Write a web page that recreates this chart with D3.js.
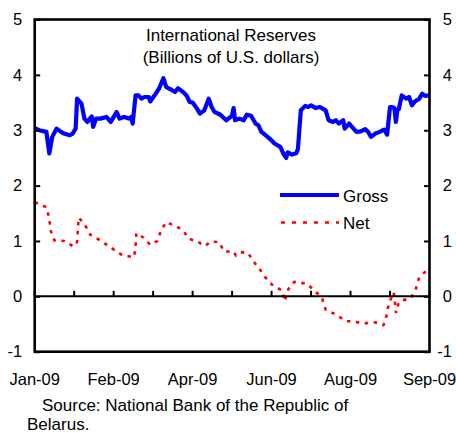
<!DOCTYPE html>
<html>
<head>
<meta charset="utf-8">
<script src="https://cdn.jsdelivr.net/npm/d3@7"></script>
<style>
  html, body { margin: 0; padding: 0; background: #fff; }
  svg { display: block; }
  text { font-family: "Liberation Sans", Arial, sans-serif; fill: #000; }
</style>
</head>
<body>
<svg id="chart" width="456" height="433"></svg>
<script>
// Belarus international reserves, billions of U.S. dollars (x = days since 1 Jan 2009)
const grossDays = [0,3,8,10,12,15,18,20,24,26,28,29,32,34,36,39,40,42,45,49,52,56,58,61,65,66,67,69,71,73,75,78,79,82,85,88,90,93,96,98,102,104,106,108,111,113,116,119,121,123,127,131,134,135,136,137,140,143,145,148,151,153,155,158,161,164,168,170,172,173,176,179,180,182,185,187,189,192,195,199,201,204,206,208,211,212,215,217,220,223,226,228,230,233,236,238,239,241,243,244,246,247,248,249,251,254,256,258,260,263,265,267,270];
const grossValues = [3.04,3.00,2.97,2.58,2.88,3.03,2.97,2.94,2.91,2.94,3.03,3.57,3.48,3.21,3.15,3.25,3.06,3.21,3.21,3.24,3.15,3.33,3.21,3.24,3.21,3.24,3.12,3.63,3.63,3.57,3.60,3.60,3.52,3.63,3.75,3.94,3.78,3.74,3.69,3.76,3.68,3.62,3.51,3.50,3.39,3.30,3.36,3.57,3.42,3.33,3.28,3.18,3.24,3.27,3.40,3.18,3.21,3.18,3.28,3.26,3.12,3.09,2.97,2.91,2.84,2.76,2.70,2.58,2.50,2.60,2.56,2.59,2.66,3.36,3.44,3.42,3.45,3.40,3.42,3.36,3.18,3.15,3.18,3.12,3.18,3.03,3.12,3.06,2.97,2.98,3.02,2.97,2.88,2.94,2.97,3.00,3.01,2.92,3.42,3.42,3.40,3.15,3.36,3.38,3.63,3.57,3.60,3.45,3.52,3.57,3.66,3.62,3.63];

const netDays = [0,2,8,10,11,13.5,20,26.5,29,29.5,30,34,38,45,52,55,60,65,68,69,69.5,74.5,79,84,86.5,90,97,101.5,105.5,111,116.5,120.5,126,129.5,136,137.5,140.5,146,150,155,157.5,163,169,171,173.5,177.5,186,191.5,196.5,199,206,213,217,225,233,238.5,240,241.5,243,245.5,246.5,247,249,251.5,257,260.5,263,268.5,270];
const netValues = [1.70,1.68,1.61,1.40,1.18,1.01,1.00,0.90,0.98,1.19,1.42,1.31,1.11,1.01,0.88,0.83,0.74,0.72,0.71,0.93,1.14,1.06,0.93,1.00,1.20,1.34,1.26,1.19,1.04,0.99,0.91,0.99,0.98,0.81,0.81,0.74,0.80,0.78,0.62,0.45,0.35,0.19,0.11,-0.09,0.13,0.26,0.23,0.10,-0.03,-0.24,-0.33,-0.45,-0.45,-0.49,-0.47,-0.52,-0.43,-0.21,-0.08,0.07,-0.13,-0.30,-0.11,-0.07,-0.04,0.12,0.34,0.48,0.50];

const tickDays = [0,27,54,81,108,135,162,189,216,243,270];
const xLabels = ["Jan-09","Feb-09","Apr-09","Jun-09","Aug-09","Sep-09"];
const yTicks = [-1,0,1,2,3,4,5];

const titleLines = ["International Reserves", "(Billions of U.S. dollars)"];
const seriesNames = ["Gross", "Net"];
const sourceLines = ["Source: National Bank of the Republic of", "Belarus."];

const svg = d3.select("#chart");
const plotLeft = 34.7, plotRight = 429.5, plotTop = 19.5, plotBottom = 351.7;

const x = d3.scaleLinear().domain([0, 270]).range([plotLeft, plotRight]);
const y = d3.scaleLinear().domain([-1, 5]).range([plotBottom, plotTop]);

// Series lines
const gross = grossDays.map((d, i) => [d, grossValues[i]]);
const net = netDays.map((d, i) => [d, netValues[i]]);
const line = d3.line().x(d => x(d[0])).y(d => y(d[1]));

svg.append("path").datum(net)
  .attr("d", line).attr("fill", "none")
  .attr("stroke", "#ff0000").attr("stroke-width", 2.6)
  .attr("stroke-dasharray", "3.5,5.5");

svg.append("path").datum(gross)
  .attr("d", line).attr("fill", "none")
  .attr("stroke", "#0000ff").attr("stroke-width", 4.2)
  .attr("stroke-linejoin", "round");

// Zero line with upward ticks
svg.append("line")
  .attr("x1", plotLeft).attr("x2", plotRight).attr("y1", y(0)).attr("y2", y(0))
  .attr("stroke", "#000").attr("stroke-width", 2);
svg.selectAll(".xtick").data(tickDays).enter().append("line")
  .attr("x1", d => x(d)).attr("x2", d => x(d))
  .attr("y1", y(0)).attr("y2", y(0) - 5.5)
  .attr("stroke", "#000").attr("stroke-width", 2);

// Frame
svg.append("rect")
  .attr("x", plotLeft).attr("y", plotTop)
  .attr("width", plotRight - plotLeft).attr("height", plotBottom - plotTop)
  .attr("fill", "none").attr("stroke", "#000").attr("stroke-width", 2.6);

// Y axes (left and right), ticks pointing inward
const fmt = d => String(d);
const yLeft = d3.axisLeft(y).tickValues(yTicks).tickSize(-5.5).tickPadding(12.5).tickFormat(fmt);
const yRight = d3.axisRight(y).tickValues(yTicks).tickSize(-5.5).tickPadding(13).tickFormat(fmt);
[[yLeft, plotLeft], [yRight, plotRight]].forEach(([ax, pos]) => {
  const g = svg.append("g").attr("transform", `translate(${pos},0)`).call(ax);
  g.select(".domain").remove();
  g.selectAll(".tick line").attr("stroke", "#000").attr("stroke-width", 2);
  g.selectAll(".tick text")
    .style("font-family", '"Liberation Sans", Arial, sans-serif')
    .style("font-size", "16.5px").attr("fill", "#000");
});
// right-hand labels share a common right edge
svg.selectAll("g").filter(function () { return this.getAttribute("text-anchor") === "start"; })
  .selectAll(".tick text").attr("text-anchor", "end").attr("x", 452 - plotRight);

// X labels on every other tick
svg.selectAll(".xlab").data(xLabels).enter().append("text")
  .attr("x", (d, i) => x(tickDays[i * 2]))
  .attr("y", 385)
  .attr("text-anchor", "middle")
  .style("font-size", "16.5px")
  .text(d => d);

// Title
svg.selectAll(".title").data(titleLines).enter().append("text")
  .attr("x", 231).attr("y", (d, i) => 41 + i * 21.5)
  .attr("text-anchor", "middle")
  .style("font-size", "17px")
  .text(d => d);

// Legend
const legend = svg.append("g");
legend.append("line").attr("x1", 280).attr("x2", 339).attr("y1", 195).attr("y2", 195)
  .attr("stroke", "#0000ff").attr("stroke-width", 4.2);
legend.append("line").attr("x1", 281).attr("x2", 339).attr("y1", 222.5).attr("y2", 222.5)
  .attr("stroke", "#ff0000").attr("stroke-width", 2.6).attr("stroke-dasharray", "4,7");
legend.selectAll(".lt").data(seriesNames).enter().append("text")
  .attr("x", 343).attr("y", (d, i) => 201.5 + i * 27.5)
  .style("font-size", "17px")
  .text(d => d);

// Source note
svg.selectAll(".src").data(sourceLines).enter().append("text")
  .attr("x", (d, i) => i === 0 ? 42 : 27)
  .attr("y", (d, i) => 411 + i * 18.5)
  .style("font-size", "17px")
  .text(d => d);
</script>
</body>
</html>
